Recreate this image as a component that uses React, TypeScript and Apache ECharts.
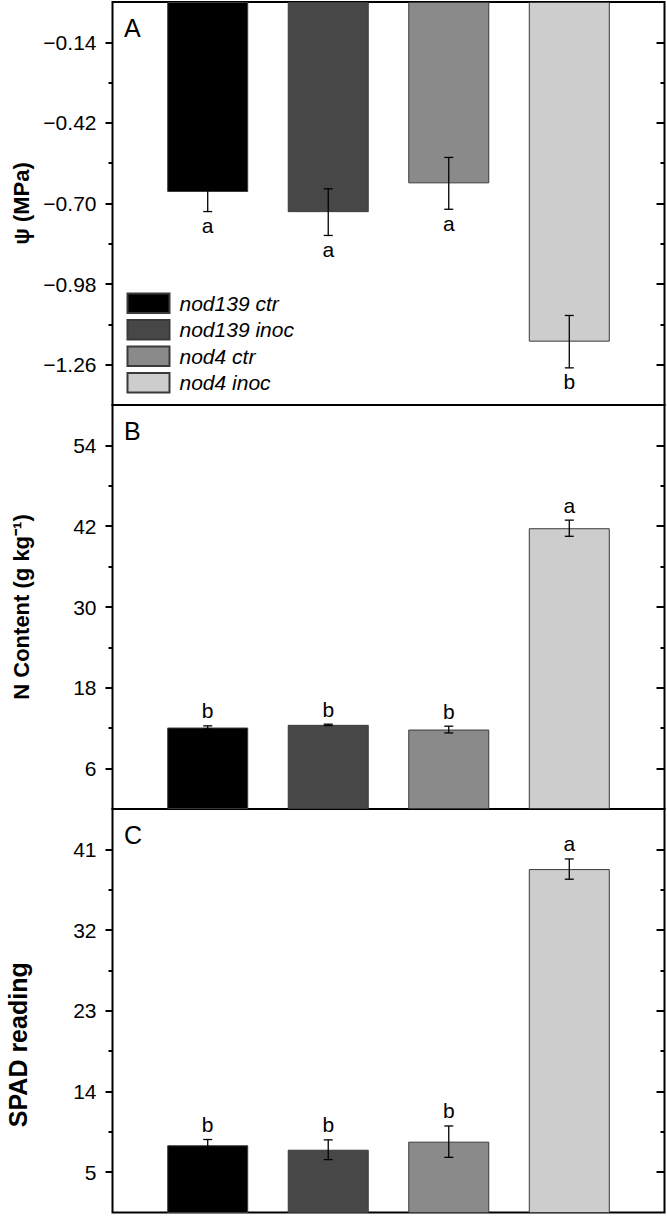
import React, { useEffect, useRef } from "react";
import * as echarts from "echarts";

const FONT = "Liberation Sans, Arial, Helvetica, sans-serif";

const treatments = ["nod139 ctr", "nod139 inoc", "nod4 ctr", "nod4 inoc"];
const barColors = ["#000000", "#474747", "#8a8a8a", "#cdcdcd"];

// Panel A: leaf water potential
const psiValues = [-0.66, -0.73, -0.63, -1.18];
const psiErrors = [0.068, 0.081, 0.09, 0.091];
const psiLetters = ["a", "a", "a", "b"];
const psiMajorTicks = [-1.26, -0.98, -0.7, -0.42, -0.14];
const psiMinorTicks = [-1.12, -0.84, -0.56, -0.28];

// Panel B: N content
const nValues = [12.1, 12.5, 11.8, 41.7];
const nErrors = [0.25, 0.1, 0.5, 1.2];
const nLetters = ["b", "b", "b", "a"];
const nMajorTicks = [6, 18, 30, 42, 54];
const nMinorTicks = [12, 24, 36, 48];

// Panel C: SPAD reading
const spadValues = [8.0, 7.5, 8.4, 38.8];
const spadErrors = [0.64, 1.1, 1.75, 1.13];
const spadLetters = ["b", "b", "b", "a"];
const spadMajorTicks = [5, 14, 23, 32, 41];
const spadMinorTicks = [9.5, 18.5, 27.5, 36.5];

const fmtNeg = (v: number) => (v < 0 ? "\u2212" + Math.abs(v).toFixed(2) : v.toFixed(2));

const panels = [
  {
    label: "A", name: "\u03c8 (MPa)", nameSize: 22, namePad: [0, 0, 0, 0], nameGap: 80, min: -1.4, max: 0,
    values: psiValues, errors: psiErrors, letters: psiLetters,
    major: psiMajorTicks, minor: psiMinorTicks, fmt: fmtNeg, below: true,
    top: 2, height: 403,
  },
  {
    label: "B", name: "N Content (g kg\u207b\u00b9)", nameSize: 22, namePad: [0, 0, 0, 0], nameGap: 80, min: 0, max: 60,
    values: nValues, errors: nErrors, letters: nLetters,
    major: nMajorTicks, minor: nMinorTicks, fmt: (v: number) => String(v), below: false,
    top: 405, height: 404,
  },
  {
    label: "C", name: "SPAD reading", nameSize: 25, namePad: [0, 68, 0, 0], nameGap: 82, min: 0.5, max: 45.5,
    values: spadValues, errors: spadErrors, letters: spadLetters,
    major: spadMajorTicks, minor: spadMinorTicks, fmt: (v: number) => String(v), below: false,
    top: 809, height: 403.5,
  },
];

export default function App() {
  const ref = useRef<HTMLDivElement>(null);
  useEffect(() => {
    if (!ref.current) return;
    const chart = echarts.init(ref.current, null, { renderer: "svg" });
    const grid: any[] = [];
    const xAxis: any[] = [];
    const yAxis: any[] = [];
    const series: any[] = [];
    const graphic: any[] = [];
    panels.forEach((p, pi) => {
      grid.push({
        left: 112.5, right: 2.5, top: p.top, height: p.height,
        outerBoundsMode: "none", containLabel: false,
        show: true, borderColor: "#000", borderWidth: 2, backgroundColor: "#fff",
      });
      xAxis.push({ type: "value", gridIndex: pi, min: 0.21, max: 4.79, show: false });
      const base = { type: "value", gridIndex: pi, min: p.min, max: p.max, splitLine: { show: false }, axisLine: { show: false } };
      const y0 = yAxis.length;
      yAxis.push({
        ...base, position: "left",
        name: p.name, nameLocation: "middle", nameGap: p.nameGap,
        nameTextStyle: { fontSize: p.nameSize, fontWeight: "bold", fontFamily: FONT, color: "#000", padding: p.namePad },
        axisTick: { show: true, customValues: p.major, length: 7, lineStyle: { color: "#000", width: 2 } },
        axisLabel: { show: true, customValues: p.major, formatter: p.fmt, margin: 16, fontSize: 21, fontFamily: FONT, color: "#000" },
      });
      yAxis.push({
        ...base, position: "left",
        axisTick: { show: true, customValues: p.minor, length: 4, lineStyle: { color: "#000", width: 2 } },
        axisLabel: { show: false },
      });
      yAxis.push({
        ...base, position: "right",
        axisTick: { show: true, inside: true, customValues: p.major, length: 8, lineStyle: { color: "#000", width: 2 } },
        axisLabel: { show: false },
      });
      yAxis.push({
        ...base, position: "right",
        axisTick: { show: true, inside: true, customValues: p.minor, length: 4, lineStyle: { color: "#000", width: 2 } },
        axisLabel: { show: false },
      });
      treatments.forEach((t, i) => {
        series.push({
          type: "bar", name: t, xAxisIndex: pi, yAxisIndex: y0,
          barWidth: 81, barGap: "-100%",
          itemStyle: { color: barColors[i], borderColor: "#3a3a3a", borderWidth: 1 },
          data: [[i + 1, p.values[i]]],
        });
      });
      series.push({
        type: "custom", xAxisIndex: pi, yAxisIndex: y0, z: 5,
        data: p.values.map((v, i) => [i + 1, v, p.errors[i]]),
        renderItem: (params: any, api: any) => {
          const i = params.dataIndex;
          const x = api.value(0), v = api.value(1), e = api.value(2);
          const pt = api.coord([x, v + e]);
          const pb = api.coord([x, v - e]);
          const cap = 4.5;
          const st = { stroke: "#000", lineWidth: 1.3 };
          const ly = p.below ? pb[1] + 14 : pt[1] - 15;
          return {
            type: "group",
            children: [
              { type: "line", shape: { x1: pt[0], y1: pt[1], x2: pb[0], y2: pb[1] }, style: st },
              { type: "line", shape: { x1: pt[0] - cap, y1: pt[1], x2: pt[0] + cap, y2: pt[1] }, style: st },
              { type: "line", shape: { x1: pb[0] - cap, y1: pb[1], x2: pb[0] + cap, y2: pb[1] }, style: st },
              {
                type: "text", x: pt[0], y: ly,
                style: { text: p.letters[i], fontSize: 21, fontFamily: FONT, fill: "#000", align: "center", verticalAlign: "middle" },
              },
            ],
          };
        },
      });
      graphic.push({
        type: "text", left: 124, top: p.top + 13,
        style: { text: p.label, fontSize: 25, fontFamily: FONT, fill: "#000" },
      });
    });
    chart.setOption({
      animation: false,
      backgroundColor: "#fff",
      grid, xAxis, yAxis, series, graphic,
      legend: {
        data: treatments, orient: "vertical", left: 126.5, top: 292.5,
        itemWidth: 42, itemHeight: 19.5, itemGap: 5, padding: 0,
        selectedMode: false, icon: "rect",
        textStyle: { fontSize: 21, fontStyle: "italic", fontFamily: FONT, color: "#000", lineHeight: 19.5, padding: [0, 0, 0, 5] },
      },
    });
    return () => chart.dispose();
  }, []);
  return <div ref={ref} style={{ position: "absolute", left: 0, top: 0, width: 667, height: 1216 }} />;
}
